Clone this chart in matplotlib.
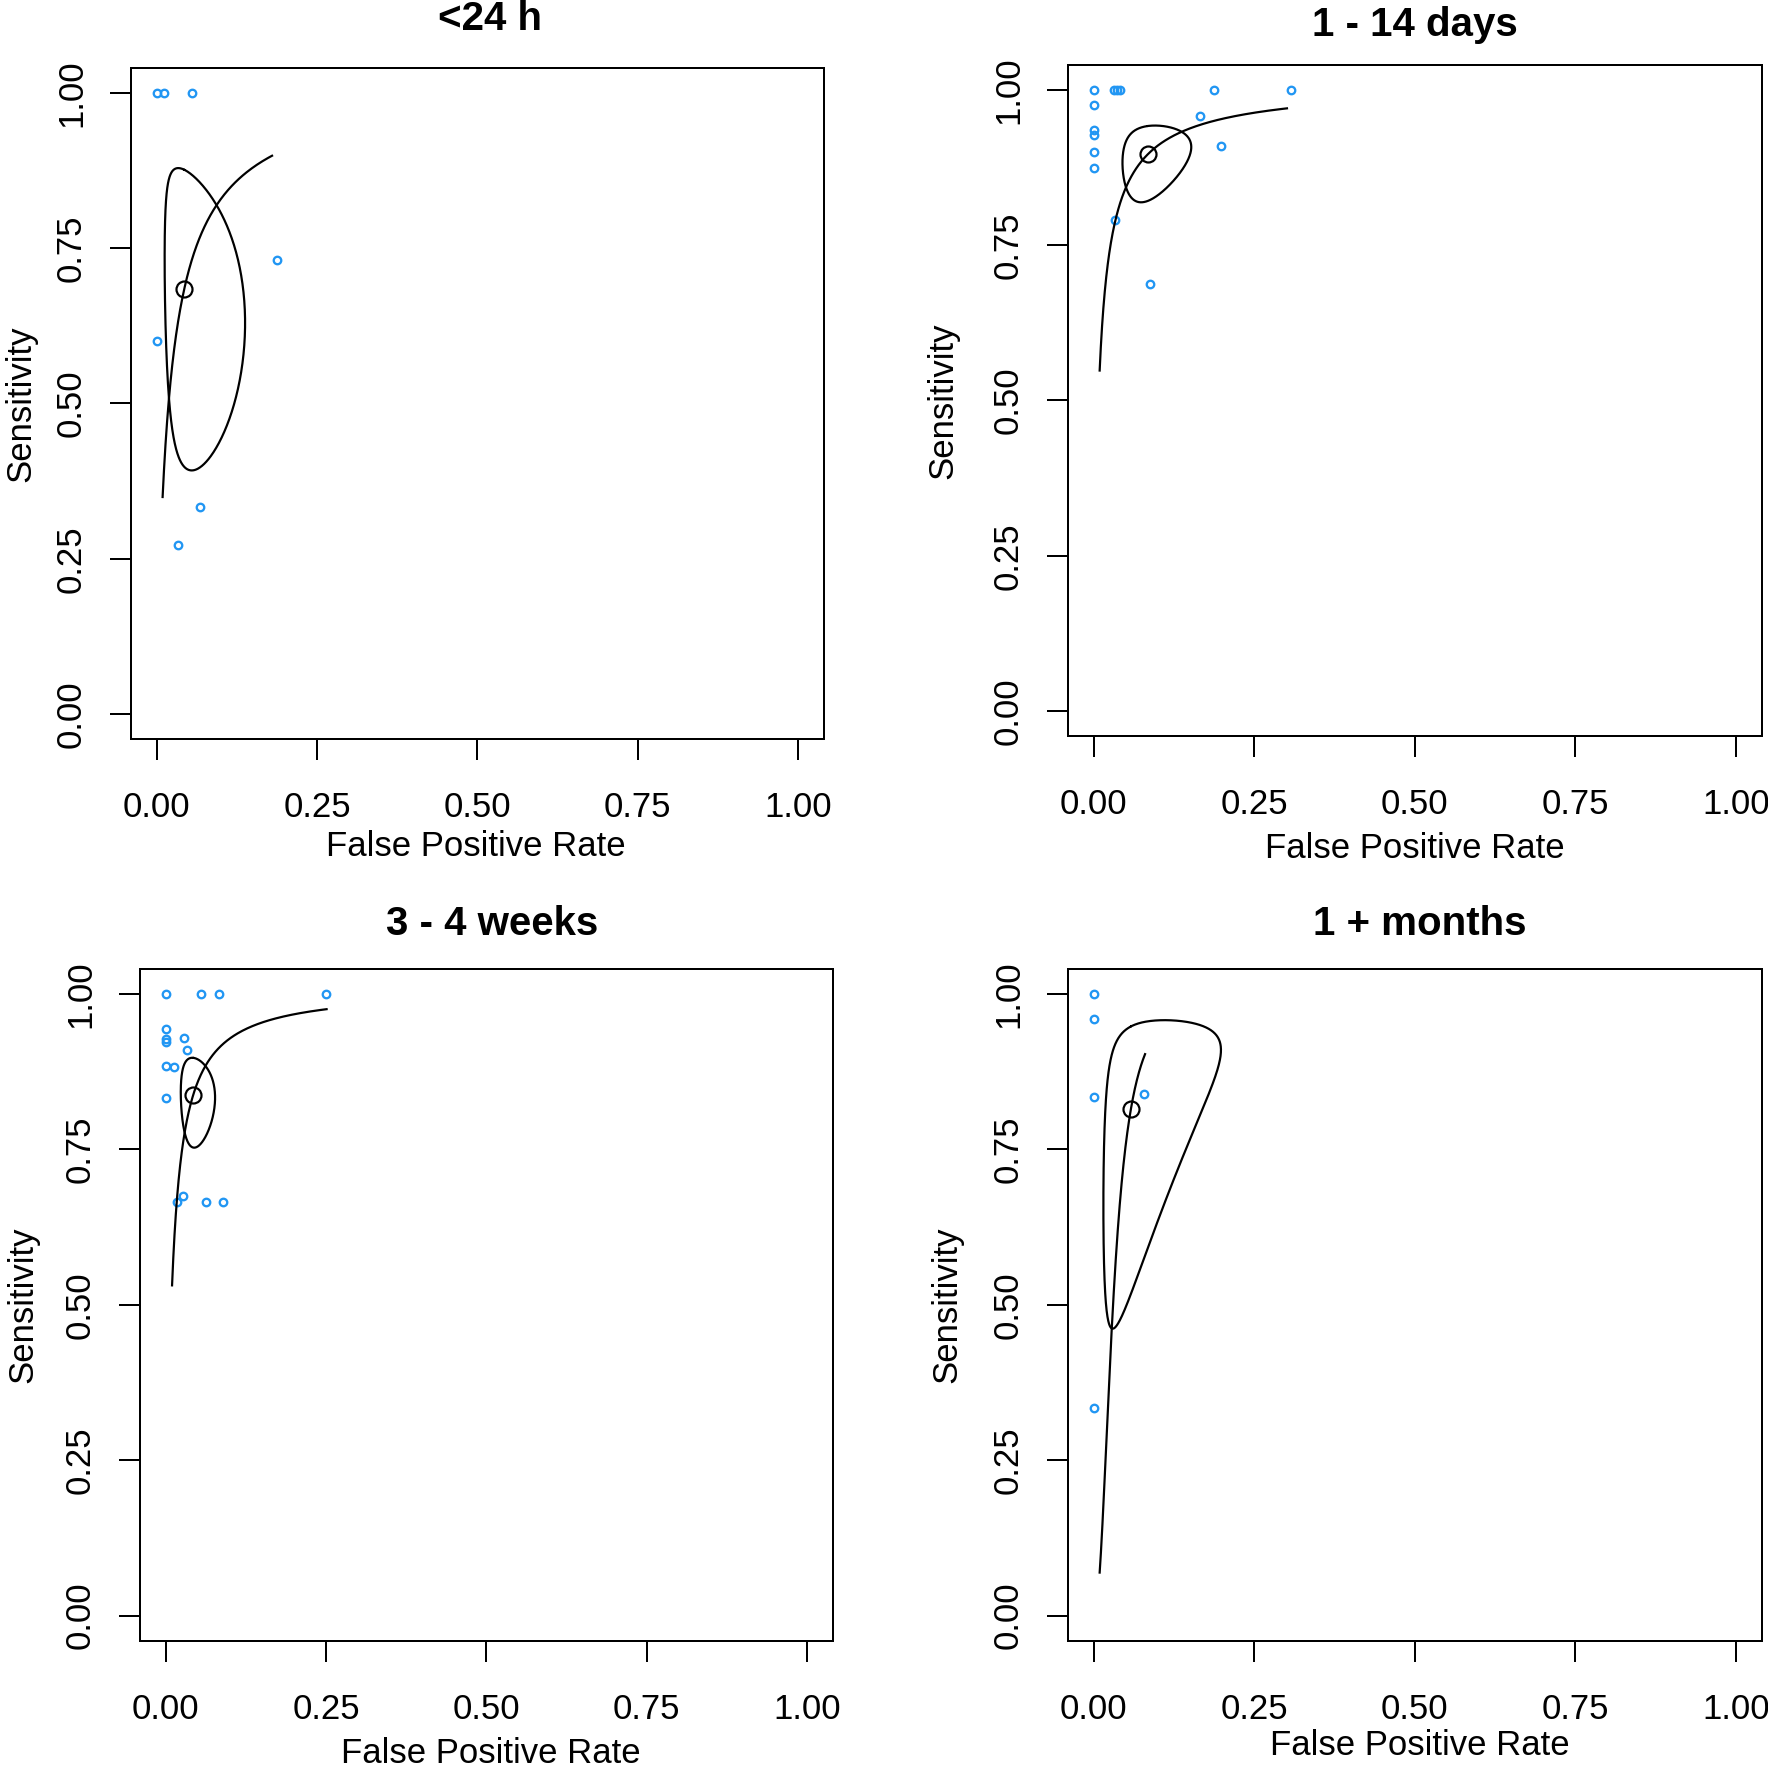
import numpy as np
import matplotlib
matplotlib.use("Agg")
import matplotlib.pyplot as plt

plt.rcParams['font.family'] = ['Liberation Sans', 'DejaVu Sans']

# ---------------- data ----------------
titles = ["<24 h", "1 - 14 days", "3 - 4 weeks", "1 + months"]
tick_values = [0.0, 0.25, 0.5, 0.75, 1.0]
tick_labels = ["0.00", "0.25", "0.50", "0.75", "1.00"]
x_label = "False Positive Rate"
y_label = "Sensitivity"

# study points
fpr_24h = [0.0, 0.011, 0.055, 0.187, 0.0, 0.067, 0.033]
sens_24h = [1.0, 1.0, 1.0, 0.731, 0.600, 0.333, 0.273]

fpr_14d = [0.0, 0.0, 0.0, 0.0, 0.0, 0.0, 0.032, 0.036, 0.041, 0.187, 0.307,
           0.166, 0.199, 0.033, 0.087]
sens_14d = [1.0, 0.976, 0.935, 0.927, 0.900, 0.875, 1.0, 1.0, 1.0, 1.0, 1.0,
            0.958, 0.909, 0.791, 0.687]

fpr_4w = [0.0, 0.055, 0.083, 0.25, 0.0, 0.0, 0.0, 0.0287, 0.033, 0.0, 0.0136,
          0.0, 0.0172, 0.0265, 0.0623, 0.090]
sens_4w = [1.0, 1.0, 1.0, 1.0, 0.944, 0.927, 0.922, 0.929, 0.909, 0.884, 0.882,
           0.833, 0.666, 0.675, 0.666, 0.666]

fpr_1m = [0.0, 0.0, 0.0, 0.079, 0.0]
sens_1m = [1.0, 0.959, 0.834, 0.839, 0.334]

# summary estimates (fpr, sens)
summary_fpr = [0.043, 0.084, 0.043, 0.058]
summary_sens = [0.684, 0.896, 0.8375, 0.815]

# SROC curve: slope on logit scale and fpr range drawn
sroc_slope = [0.89, 0.86, 1.015, 2.17]
sroc_fpr_min = [0.0093, 0.0093, 0.010, 0.0093]
sroc_fpr_max = [0.180, 0.301, 0.251, 0.080]

# confidence region (ellipse on logit scale): sd of logit fpr, sd of logit sens, correlation
region_sd_fpr = [1.27, 0.67, 0.62, 1.39]
region_sd_sens = [1.21, 0.644, 0.527, 1.637]
region_rho = [-0.20, 0.21, -0.06, 0.505]

# ---------------- layout (pixels in the 1768x1769 image) ----------------
W, H = 1768, 1769
boxes = [(131, 68, 692.5, 671), (1068, 65, 693.5, 671),
         (140, 969, 692.5, 671.5), (1068, 969, 693.5, 671.5)]
title_pos = [(490, 19), (1415, 25), (492, 924), (1420, 924)]
xlabel_pos = [(476, 846), (1415, 848), (491, 1753), (1420, 1745)]
ylabel_x = [21, 943, 23, 947]

fpr_sets = [fpr_24h, fpr_14d, fpr_4w, fpr_1m]
sens_sets = [sens_24h, sens_14d, sens_4w, sens_1m]

BLUE = "#2196F3"
FS = 25
px = 72.0 / 100.0  # points per pixel at dpi 100

fig = plt.figure(figsize=(W / 100, H / 100), dpi=100)


def logit(p):
    p = np.asarray(p, dtype=float)
    return np.log(p / (1 - p))


def expit(x):
    return 1.0 / (1.0 + np.exp(-x))


for i in range(4):
    L, T, Wd, Hh = boxes[i]
    ax = fig.add_axes([L / W, 1 - (T + Hh) / H, Wd / W, Hh / H])
    ax.set_xlim(-0.04, 1.04)
    ax.set_ylim(-0.04, 1.04)
    for s in ax.spines.values():
        s.set_linewidth(2 * px)
    ax.set_xticks(tick_values)
    ax.set_xticklabels(tick_labels, fontsize=FS)
    ax.set_yticks(tick_values)
    ax.set_yticklabels(tick_labels, fontsize=FS, rotation=90, va='center')
    ax.tick_params(axis='x', length=21 * px, width=2 * px, pad=31 * px)
    ax.tick_params(axis='y', length=21 * px, width=2 * px, pad=22 * px)

    # study points
    ax.plot(fpr_sets[i], sens_sets[i], linestyle='none', marker='o',
            markersize=7.5 * px, markerfacecolor='none', markeredgecolor=BLUE,
            markeredgewidth=2.3 * px, zorder=3)

    # SROC curve (line on logit scale through the summary point)
    cx = logit(summary_fpr[i])
    cy = logit(summary_sens[i])
    xf = np.linspace(logit(sroc_fpr_min[i]), logit(sroc_fpr_max[i]), 300)
    yf = cy + sroc_slope[i] * (xf - cx)
    ax.plot(expit(xf), expit(yf), color='black', linewidth=2.2 * px, zorder=4)

    # confidence region
    t = np.linspace(0, 2 * np.pi, 721) + np.pi / 2
    r = region_rho[i]
    ex = cx + region_sd_fpr[i] * np.cos(t)
    ey = cy + region_sd_sens[i] * (r * np.cos(t) + np.sqrt(1 - r ** 2) * np.sin(t))
    ax.plot(expit(ex), expit(ey), color='black', linewidth=2.2 * px,
            solid_capstyle='round', solid_joinstyle='round', zorder=4)

    # summary point
    ax.plot([summary_fpr[i]], [summary_sens[i]], linestyle='none', marker='o',
            markersize=16 * px, markerfacecolor='none', markeredgecolor='black',
            markeredgewidth=2.2 * px, zorder=5)

    # texts
    tx, ty = title_pos[i]
    fig.text(tx / W, 1 - ty / H, titles[i], fontsize=29, fontweight='bold',
             ha='center', va='center')
    lx, ly = xlabel_pos[i]
    fig.text(lx / W, 1 - ly / H, x_label, fontsize=FS, ha='center', va='center')
    yy = T + Hh / 2
    fig.text(ylabel_x[i] / W, 1 - yy / H, y_label, fontsize=FS, rotation=90,
             ha='center', va='center')

fig.savefig("out.png", dpi=100)
